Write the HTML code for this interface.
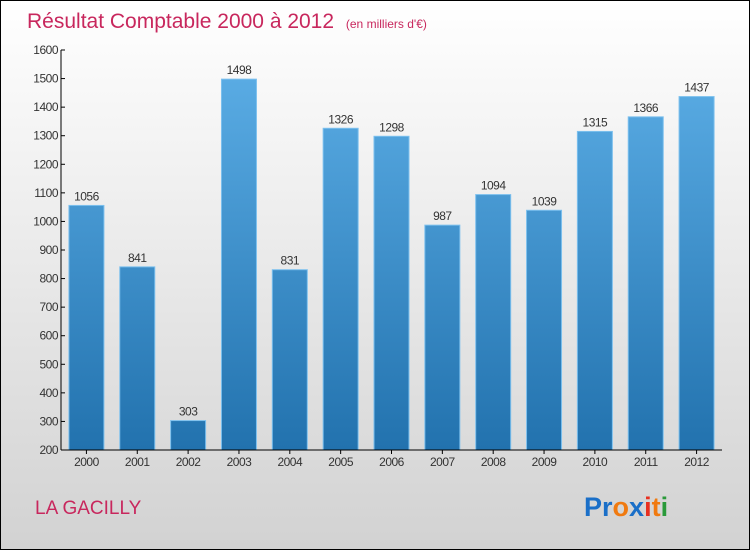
<!DOCTYPE html>
<html><head><meta charset="utf-8"><style>
body{margin:0}
svg{display:block;font-family:"Liberation Sans",sans-serif}
</style></head><body>
<svg id="c" width="750" height="550" xmlns="http://www.w3.org/2000/svg">
<defs>
<linearGradient id="bg" x1="0" y1="0" x2="0" y2="1"><stop offset="0" stop-color="#ffffff"/><stop offset="1" stop-color="#d2d2d2"/></linearGradient>
<linearGradient id="bar" gradientUnits="userSpaceOnUse" x1="0" y1="60" x2="0" y2="450"><stop offset="0" stop-color="#5caee6"/><stop offset="1" stop-color="#2272ae"/></linearGradient>
</defs>
<rect x="0.5" y="0.5" width="749" height="549" fill="url(#bg)" stroke="#000"/>
<text x="27" y="28" font-size="21" fill="#c8275d">Résultat Comptable 2000 à 2012 <tspan font-size="12" dx="6">(en milliers d'€)</tspan></text>
<g id="plot"></g>
<text x="35" y="514" font-size="19" fill="#c8275d">LA GACILLY</text>
<text x="584" y="516" font-size="27" font-weight="bold"><tspan fill="#1a6fc8">Pr</tspan><tspan fill="#f07a10">o</tspan><tspan fill="#1a6fc8">x</tspan><tspan fill="#e83020">i</tspan><tspan fill="#f07a10">t</tspan><tspan fill="#2a9a3a">i</tspan></text>
</svg>
<script>
const categories=["2000","2001","2002","2003","2004","2005","2006","2007","2008","2009","2010","2011","2012"];
const values=[1056,841,303,1498,831,1326,1298,987,1094,1039,1315,1366,1437];
const yTicks=[200,300,400,500,600,700,800,900,1000,1100,1200,1300,1400,1500,1600];
const NS="http://www.w3.org/2000/svg";
const g=document.getElementById('plot');
const X0=61,X1=722,Y0=450,Y1=50,ymin=200,ymax=1600;
const y=v=>Y0-(v-ymin)/(ymax-ymin)*(Y0-Y1);
const bw=(X1-X0)/categories.length;
const x=i=>X0+bw*(i+0.5);
function mk(t,a){const e=document.createElementNS(NS,t);for(const k in a)e.setAttribute(k,a[k]);g.appendChild(e);return e;}
yTicks.forEach(v=>{
 const t=mk('line',{x1:X0,x2:X0+4,y1:y(v),y2:y(v),stroke:'#000'});
 
 
 const l=mk('text',{x:X0-3,y:y(v)+4,'font-size':12,'text-anchor':'end',fill:'#333','letter-spacing':'-0.5'});
 l.textContent=v;
 
 
});
categories.forEach((c,i)=>{
 const r=mk('rect',{x:x(i)-17.5,y:y(values[i]),width:35,height:Y0-y(values[i]),fill:'url(#bar)',stroke:'#7cc0ee','stroke-width':1});
 
 
 const v=mk('text',{x:x(i),y:y(values[i])-5,'font-size':12,'text-anchor':'middle',fill:'#333','letter-spacing':'-0.5'});
 v.textContent=values[i];
 
 
 const t=mk('line',{x1:x(i),x2:x(i),y1:Y0,y2:Y0+4,stroke:'#000'});
 
 
 const l=mk('text',{x:x(i),y:Y0+16,'font-size':12,'text-anchor':'middle',fill:'#333','letter-spacing':'-0.5'});
 l.textContent=c;
 
 
});
const ya=mk('line',{x1:X0,x2:X0,y1:Y1,y2:Y0,stroke:'#000'});


const xa=mk('line',{x1:X0,x2:X1,y1:Y0,y2:Y0,stroke:'#000'});


</script>
</body></html>
